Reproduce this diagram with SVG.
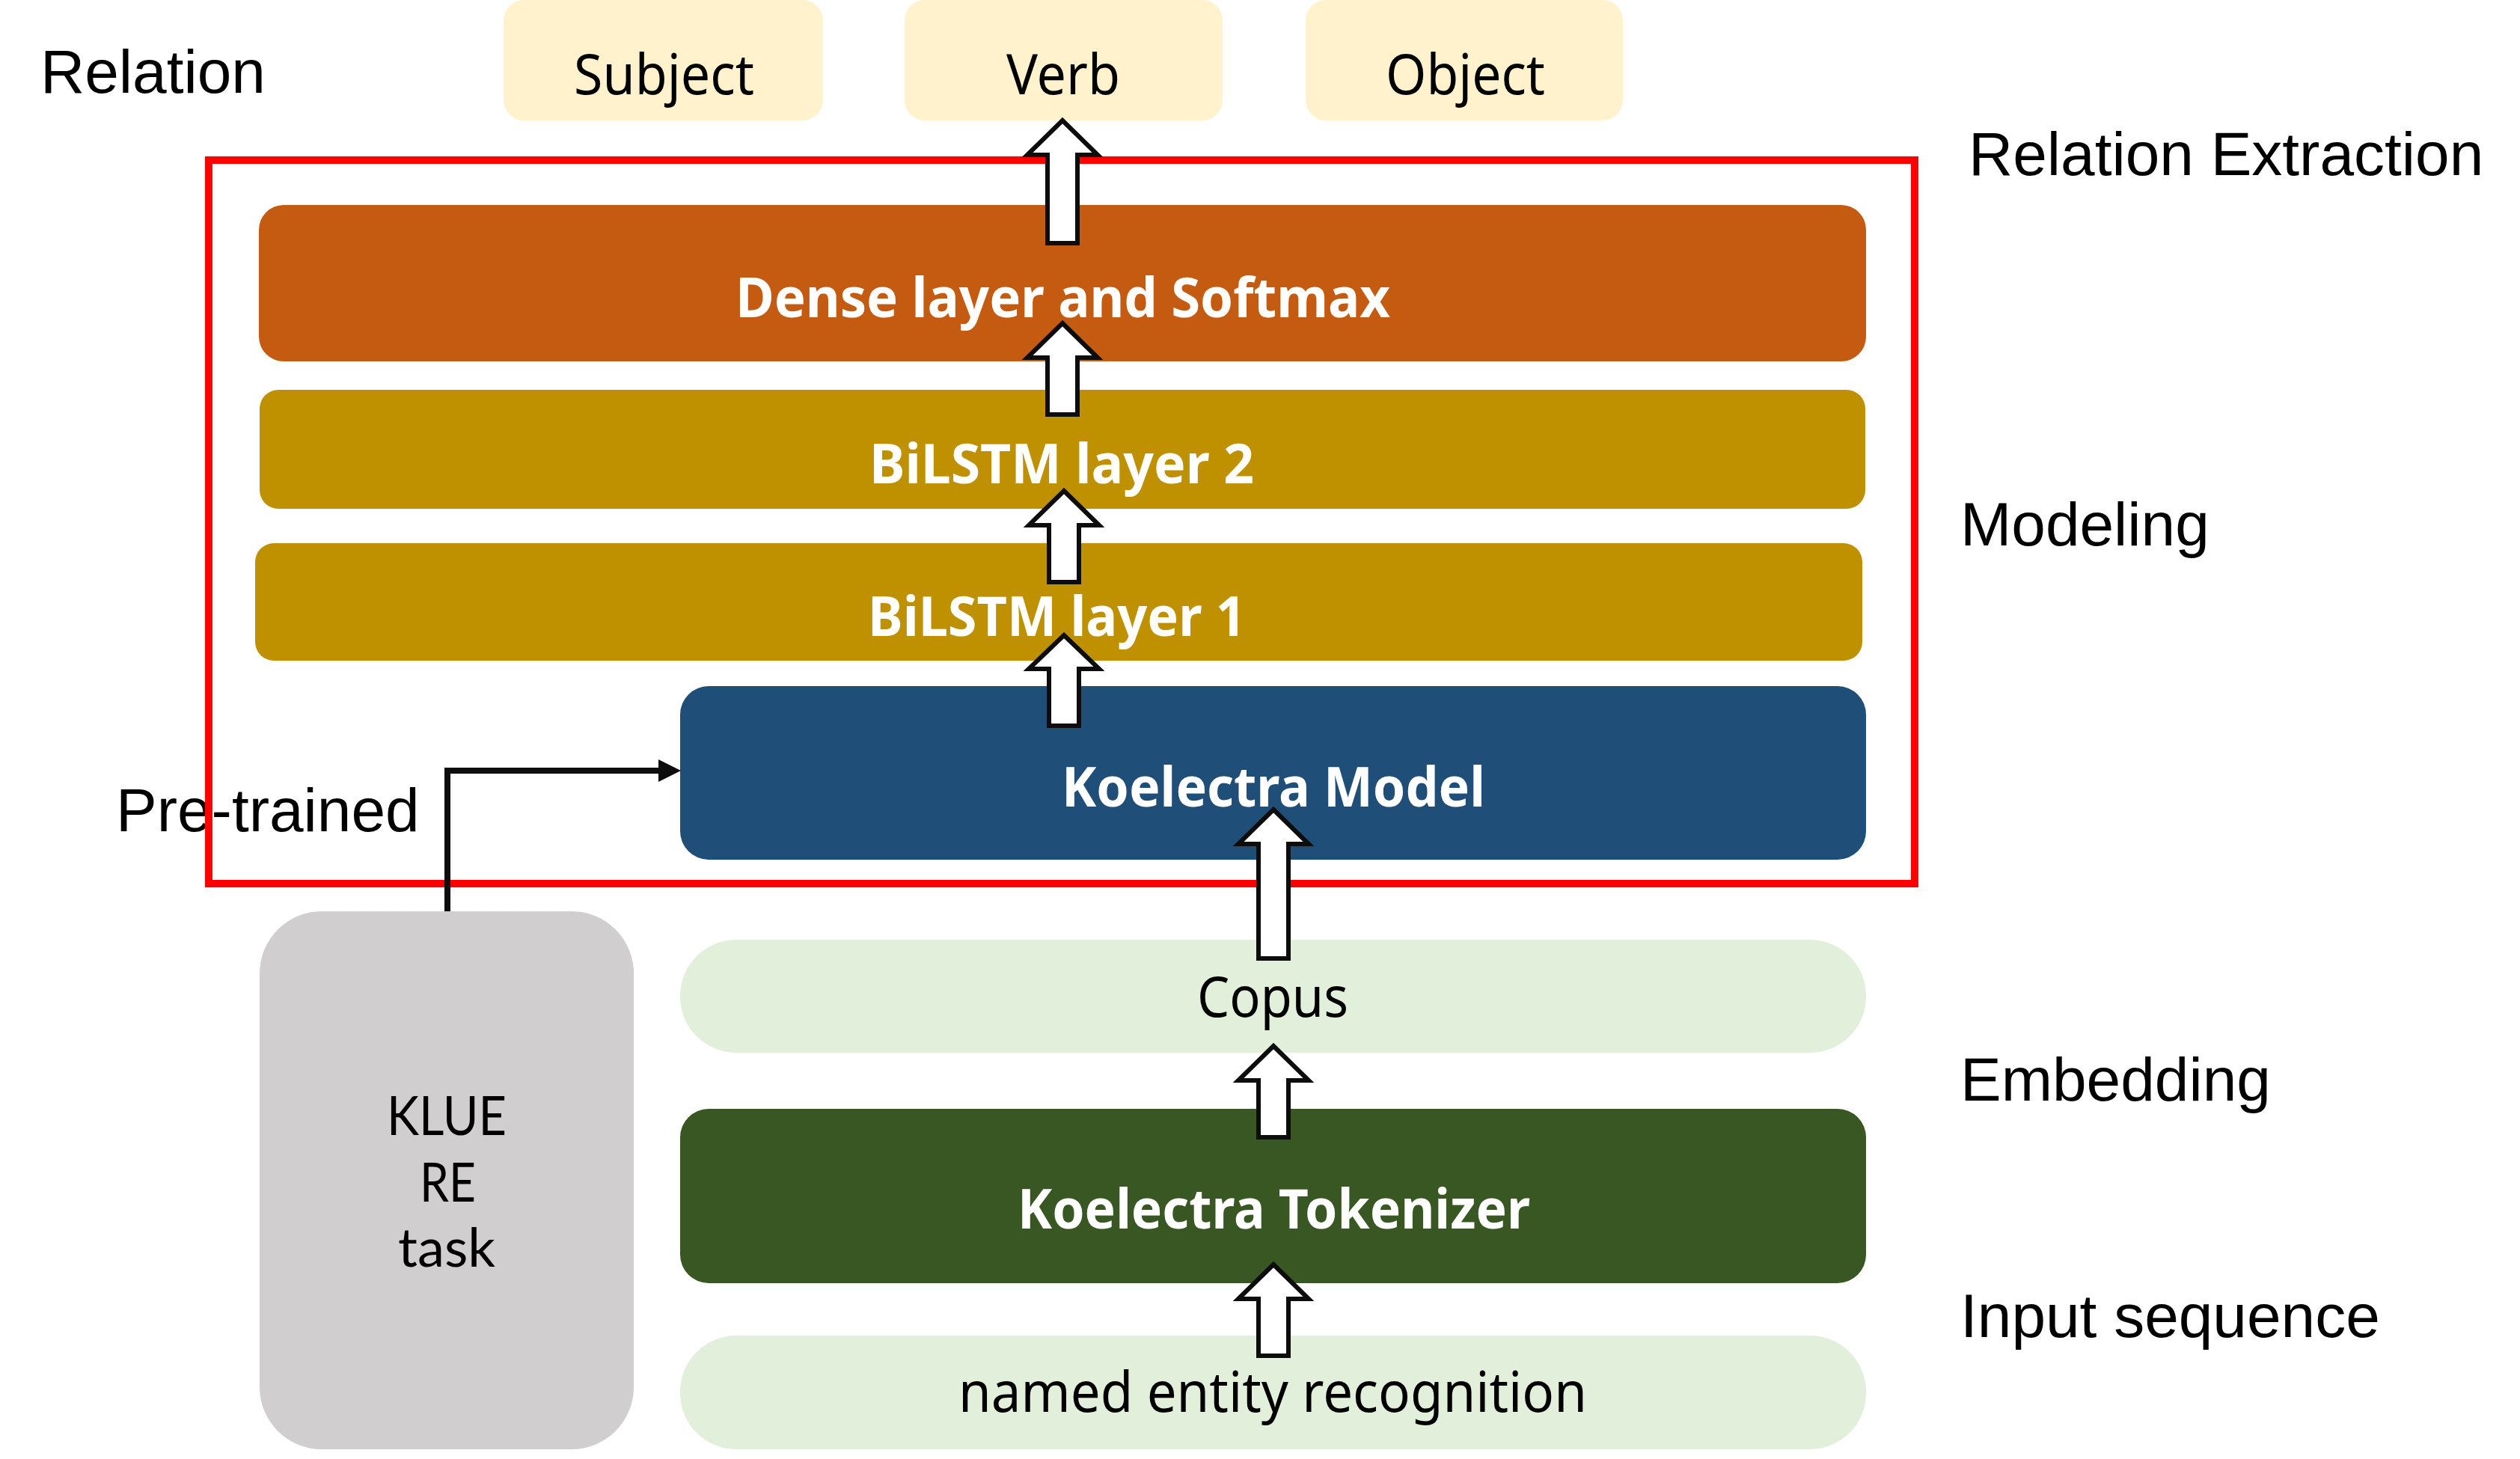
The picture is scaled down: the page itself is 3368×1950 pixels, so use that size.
<svg xmlns="http://www.w3.org/2000/svg" width="3368" height="1950" viewBox="0 0 3368 1950">
<style>
.lbl{font-family:"Liberation Sans",Arial,sans-serif;font-size:82px;fill:#000}
.bw{font-family:"Noto Sans",sans-serif;font-weight:bold;font-size:73px;fill:#fff}
.rt{font-family:"Noto Sans",sans-serif;font-size:75px;fill:#000}
.kt{font-family:Lato,"Noto Sans",sans-serif;font-size:72px;fill:#000}
.arr{fill:#fff;stroke:#0D0D0D;stroke-width:6;stroke-linejoin:miter}
.conn{fill:none;stroke:#0D0D0D;stroke-width:8}
</style>
<defs>
<marker id="ah" markerWidth="30" markerHeight="30" refX="0" refY="15" orient="auto" markerUnits="userSpaceOnUse"><path d="M0,0 L30,15 L0,30 Z" fill="#0D0D0D"/></marker>
</defs>
<rect width="3368" height="1950" fill="#fff"/>

<g id="labels">
<text class="lbl" x="54" y="124">Relation</text>
<text class="lbl" x="2631" y="234">Relation Extraction</text>
<text class="lbl" x="2620" y="729">Modeling</text>
<text class="lbl" x="2620" y="1471">Embedding</text>
<text class="lbl" x="2620" y="1787">Input sequence</text>
<text class="lbl" x="155" y="1111">Pre-trained</text>
</g>

<g id="subject"><rect x="673" y="0" width="427" height="161" rx="27" fill="#FFF2CC"/><text class="rt" x="767" y="126" textLength="241" lengthAdjust="spacingAndGlyphs">Subject</text></g>
<g id="verb"><rect x="1209" y="0" width="425" height="161" rx="27" fill="#FFF2CC"/><text class="rt" x="1345" y="126" textLength="152" lengthAdjust="spacingAndGlyphs">Verb</text></g>
<g id="object"><rect x="1745" y="0" width="424" height="161" rx="27" fill="#FFF2CC"/><text class="rt" x="1852" y="126" textLength="213" lengthAdjust="spacingAndGlyphs">Object</text></g>

<g id="dense"><rect x="346" y="274" width="2148" height="209" rx="33" fill="#C55A11"/><text class="bw" x="983" y="424" textLength="875" lengthAdjust="spacingAndGlyphs">Dense layer and Softmax</text></g>
<g id="bilstm2"><rect x="347" y="521" width="2146" height="159" rx="25" fill="#BF9000"/><text class="bw" x="1162" y="646" textLength="514" lengthAdjust="spacingAndGlyphs">BiLSTM layer 2</text></g>
<g id="bilstm1"><rect x="341" y="726" width="2148" height="157" rx="25" fill="#BF9000"/><text class="bw" x="1160" y="850" textLength="505" lengthAdjust="spacingAndGlyphs">BiLSTM layer 1</text></g>
<g id="koelectra-model"><rect x="909" y="917" width="1585" height="232" rx="38" fill="#1F4E79"/><text class="bw" x="1419" y="1078" textLength="566" lengthAdjust="spacingAndGlyphs">Koelectra Model</text></g>

<g id="frame"><rect x="279" y="214" width="2280" height="967" fill="none" stroke="#FF0000" stroke-width="10"/></g>

<g id="klue"><rect x="347" y="1218" width="500" height="719" rx="83" fill="#D0CECE"/>
<text class="kt" x="517" y="1517" textLength="160" lengthAdjust="spacingAndGlyphs">KLUE</text>
<text class="kt" x="561" y="1606" textLength="75" lengthAdjust="spacingAndGlyphs">RE</text>
<text class="kt" x="532" y="1693" textLength="130" lengthAdjust="spacingAndGlyphs">task</text></g>
<g id="copus"><rect x="909" y="1256" width="1585" height="151" rx="75" fill="#E2EFDA"/><text class="rt" x="1600" y="1359" textLength="202" lengthAdjust="spacingAndGlyphs">Copus</text></g>
<g id="tokenizer"><rect x="909" y="1482" width="1585" height="233" rx="38" fill="#385723"/><text class="bw" x="1360" y="1642" textLength="685" lengthAdjust="spacingAndGlyphs">Koelectra Tokenizer</text></g>
<g id="ner"><rect x="909" y="1785" width="1585" height="152" rx="75" fill="#E2EFDA"/><text class="rt" x="1281" y="1887" textLength="840" lengthAdjust="spacingAndGlyphs">named entity recognition</text></g>

<g id="connectors">
<path class="conn" d="M598,1218 V1030 H880" marker-end="url(#ah)"/>
<path class="arr" d="M1420,161 L1467,207 L1440,207 L1440,325 L1400,325 L1400,207 L1373,207 Z"/>
<path class="arr" d="M1420,432 L1467,478 L1440,478 L1440,554 L1400,554 L1400,478 L1373,478 Z"/>
<path class="arr" d="M1422,656 L1469,702 L1442,702 L1442,778 L1402,778 L1402,702 L1375,702 Z"/>
<path class="arr" d="M1422,849 L1469,894 L1442,894 L1442,970 L1402,970 L1402,894 L1375,894 Z"/>
<path class="arr" d="M1702,1082 L1749,1128 L1722,1128 L1722,1281 L1682,1281 L1682,1128 L1655,1128 Z"/>
<path class="arr" d="M1702,1398 L1749,1444 L1722,1444 L1722,1520 L1682,1520 L1682,1444 L1655,1444 Z"/>
<path class="arr" d="M1702,1690 L1749,1736 L1722,1736 L1722,1812 L1682,1812 L1682,1736 L1655,1736 Z"/>
</g>
</svg>
